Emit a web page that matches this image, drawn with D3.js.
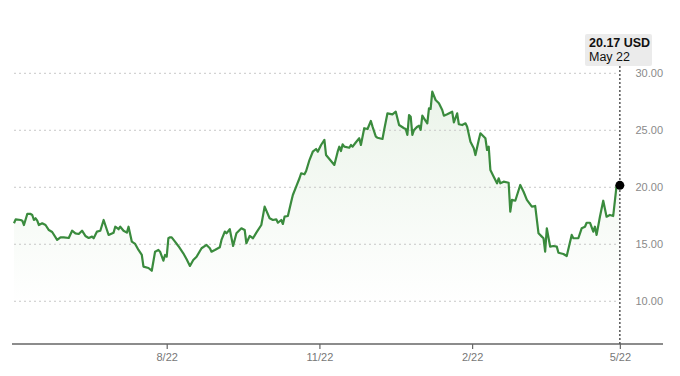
<!DOCTYPE html>
<html>
<head>
<meta charset="utf-8">
<script src="https://cdn.jsdelivr.net/npm/d3@7"></script>
<style>
  body { margin: 0; background: #fff; }
  svg { font-family: "Liberation Sans", Arial, sans-serif; }
</style>
</head>
<body>
<div id="chart-area"></div>
<script>
/*
*    price chart, one year of closes
*/

var startDate = "2022-05-22";
var endDate = "2023-06-17";

// days since startDate
var days = [0,1,4,5,6,8,10,11,12,13,14,15,17,19,21,23,26,28,30,33,35,37,39,41,43,45,47,48,50,52,54,56,57,60,61,63,64,66,68,69,
    71,73,75,77,78,81,83,85,87,88,90,91,92,93,94,95,97,99,102,104,106,108,110,113,116,118,119,121,124,125,127,128,130,132,134,137,139,140,142,144,
    146,149,151,154,156,158,159,161,162,163,165,167,168,170,172,173,175,176,178,180,182,183,185,187,188,190,193,195,196,197,198,199,202,203,204,206,208,209,211,213,
    215,216,218,219,222,223,225,228,230,232,235,236,237,238,239,240,241,243,244,245,246,247,249,250,251,252,254,256,258,259,261,264,265,267,268,270,272,273,275,277,
    278,280,281,284,285,286,287,289,291,292,293,295,298,299,300,302,305,307,309,312,314,316,318,319,320,321,323,325,327,328,331,333,336,337,340,342,344,345,347,349,
    350,351,353,355,357,359,361,363,365];

var prices = [16.84,17.19,17.13,17.07,16.69,17.66,17.66,17.57,17.13,17.28,17.07,16.69,16.84,16.69,16.25,16.08,15.38,15.61,15.61,15.55,16.19,15.96,15.90,16.19,15.73,15.55,15.67,15.53,16.11,16.19,17.13,16.25,15.82,16.02,16.54,16.32,16.54,16.19,16.02,16.54,
    15.23,15.03,14.50,14.06,13.04,12.92,12.68,14.35,14.50,14.35,13.56,14.06,13.91,15.53,15.61,15.61,15.23,14.85,14.21,13.68,13.10,13.62,13.91,14.65,14.94,14.65,14.35,14.50,14.74,15.38,16.11,15.96,16.32,14.85,15.96,16.40,16.25,15.09,15.73,15.53,
    16.02,16.69,18.30,17.28,17.13,17.19,16.89,17.13,16.78,17.42,17.48,18.74,19.32,20.05,20.79,21.23,21.14,21.43,22.39,23.12,23.36,23.12,23.71,24.15,22.83,22.48,21.96,23.12,23.56,23.18,23.77,23.56,23.47,23.71,23.56,23.95,24.30,23.71,25.18,25.11,
    25.82,25.32,24.44,24.35,24.24,25.03,26.49,26.40,26.63,25.46,25.18,25.11,24.59,26.34,26.19,24.59,25.03,25.32,25.40,25.03,26.28,26.05,25.61,26.93,26.87,28.39,27.66,27.37,26.78,26.28,26.40,26.63,25.70,26.49,25.53,25.46,25.61,25.32,24.00,23.42,
    22.83,24.15,24.74,24.30,23.27,23.56,21.52,20.93,20.35,20.79,20.35,20.49,20.40,17.86,18.89,18.82,20.20,19.61,18.89,18.30,18.36,15.96,15.67,15.53,14.35,16.40,14.79,14.85,14.79,14.26,14.15,13.97,15.82,15.53,15.53,16.40,16.54,16.89,16.89,16.11,
    16.54,15.82,17.42,18.82,17.42,17.57,17.48,20.11,20.17];

var yTicks = [10, 15, 20, 25, 30];
var xTicks = ["2022-08-22", "2022-11-22", "2023-02-22", "2023-05-22"];
var lastLabel = "20.17 USD";
var lastDate = "May 22";

var width = 680;
var height = 376;

var parse = d3.timeParse("%Y-%m-%d");
var t0 = parse(startDate);
var data = days.map((d, i) => { return {date: d3.timeDay.offset(t0, d), price: prices[i]}; });

var svg = d3.select("#chart-area").append("svg").attr("width", width).attr("height", height);

var x = d3.scaleTime().domain([t0, parse(endDate)]).range([14, 663]);
var y = d3.scaleLinear().domain([6.25, 30]).range([344, 73.3]);

var gridRight = 618;

// fill under the line, fades out towards the bottom
var defs = svg.append("defs");
var grad = defs.append("linearGradient").attr("id", "fillGrad").attr("x1", 0).attr("y1", 0).attr("x2", 0).attr("y2", 1);
grad.append("stop").attr("offset", "0%").attr("stop-color", "#4a9a3f").attr("stop-opacity", 0.11);
grad.append("stop").attr("offset", "85%").attr("stop-color", "#4a9a3f").attr("stop-opacity", 0);

var area = d3.area().x((d) => x(d.date)).y0(y(6.25)).y1((d) => y(d.price));
svg.append("path").datum(data).attr("d", area).attr("fill", "url(#fillGrad)");

// grid
svg.append("g").selectAll("line").data(yTicks).enter().append("line")
    .attr("x1", 14).attr("x2", gridRight)
    .attr("y1", (d) => y(d)).attr("y2", (d) => y(d))
    .attr("stroke", "#c8c8c8").attr("stroke-width", 1).attr("stroke-dasharray", "2,3");

svg.append("g").selectAll("text").data(yTicks).enter().append("text")
    .attr("x", 663).attr("y", (d) => y(d) + 4)
    .attr("text-anchor", "end").attr("font-size", "11px").attr("fill", "#8a8a8a")
    .text((d) => d3.format(".2f")(d));

// line
var line = d3.line().x((d) => x(d.date)).y((d) => y(d.price));
svg.append("path").datum(data).attr("d", line)
    .attr("fill", "none").attr("stroke", "#3a8b3d").attr("stroke-width", 2.2).attr("stroke-linejoin", "round");

// x axis
var xAxis = d3.axisBottom(x).tickValues(xTicks.map(parse)).tickSize(5).tickSizeOuter(0).tickFormat(d3.timeFormat("%-m/%-d"));
var gx = svg.append("g").attr("transform", "translate(0, 344)").call(xAxis);
gx.select(".domain").attr("stroke", "#666").attr("stroke-width", 1.5).attr("d", "M12,0H663");
gx.selectAll(".tick line").attr("stroke", "#666").attr("stroke-width", 1.2);
gx.selectAll(".tick text").attr("fill", "#777").attr("font-size", "11px").attr("y", 9)
    .attr("font-family", "Liberation Sans Narrow, Liberation Sans, Arial, sans-serif");

// last point marker
var last = data[data.length - 1];
svg.append("line").attr("x1", x(last.date)).attr("x2", x(last.date)).attr("y1", 66).attr("y2", 344)
    .attr("stroke", "#555").attr("stroke-width", 1.5).attr("stroke-dasharray", "2,2");
svg.append("circle").attr("cx", x(last.date)).attr("cy", y(last.price)).attr("r", 4.5).attr("fill", "#000");

var box = svg.append("g").attr("transform", "translate(585, 34)");
box.append("rect").attr("width", 67).attr("height", 32).attr("rx", 2).attr("fill", "#ebebeb");
box.append("text").attr("x", 4).attr("y", 13).attr("font-size", "12.5px").attr("font-weight", "bold").attr("fill", "#111").text(lastLabel);
box.append("text").attr("x", 4).attr("y", 27).attr("font-size", "12.5px").attr("fill", "#111").text(lastDate);
</script>
</body>
</html>
